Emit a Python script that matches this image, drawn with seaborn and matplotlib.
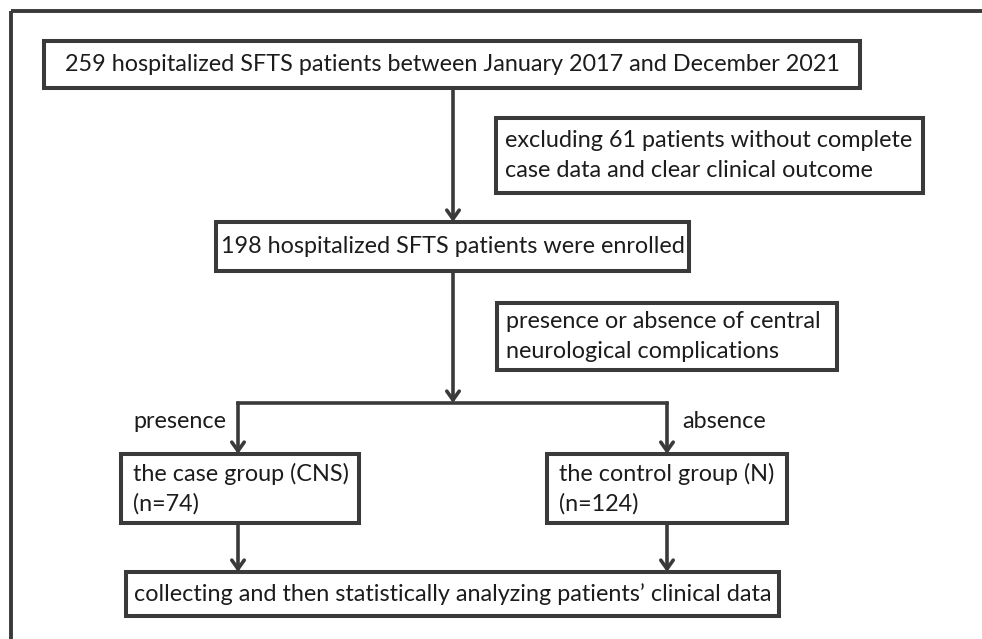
import matplotlib
matplotlib.use("Agg")
import matplotlib.pyplot as plt
from matplotlib.patches import Rectangle
import seaborn as sns

# texts of the flow chart
top_lines = ["259 hospitalized SFTS patients between January 2017 and December 2021"]
exclude_lines = ["excluding 61 patients without complete", "case data and clear clinical outcome"]
enrolled_lines = ["198 hospitalized SFTS patients were enrolled"]
split_lines = ["presence or absence of central", "neurological complications"]
case_lines = ["the case group (CNS)", "(n=74)"]
control_lines = ["the control group (N)", "(n=124)"]
final_lines = ["collecting and then statistically analyzing patients\u2019 clinical data"]
branch_labels = ["presence", "absence"]

sns.set_theme(style="white")
plt.rcParams["font.family"] = ["Lato", "DejaVu Sans"]

INK = "#3a3a3a"
TXT = "#1c1c1c"
FS = 16.8
LINE_GAP = 30

fig = plt.figure(figsize=(9.82, 6.39), dpi=100)
ax = fig.add_axes([0, 0, 1, 1])
ax.set_xlim(0, 982)
ax.set_ylim(639, 0)
ax.set_axis_off()

# outer frame (cut off at right and bottom)
ax.add_patch(Rectangle((11, 11), 1000, 700, fill=False, lw=2.8, ec=INK))


def box(x0, x1, y0, y1, lines, align="center", pad=9):
    ax.add_patch(Rectangle((x0, y0), x1 - x0, y1 - y0, fill=False, lw=2.9,
                           ec=INK, zorder=3))
    yc = (y0 + y1) / 2
    n = len(lines)
    for i, s in enumerate(lines):
        y = yc + (i - (n - 1) / 2) * LINE_GAP
        if align == "center":
            ax.text((x0 + x1) / 2, y, s, ha="center", va="center", fontsize=FS, color=TXT)
        else:
            ax.text(x0 + pad, y, s, ha="left", va="center", fontsize=FS, color=TXT)


def arrow(x, y0, y1):
    ax.annotate("", xy=(x, y1), xytext=(x, y0),
                arrowprops=dict(arrowstyle="->,head_length=0.45,head_width=0.32",
                                lw=2.6, color=INK, shrinkA=0, shrinkB=0,
                                mutation_scale=14))


def line(xs, ys):
    ax.plot(xs, ys, color=INK, lw=2.6, solid_capstyle="projecting")


box(44, 860, 41, 88, top_lines)
box(496, 923, 118, 193, exclude_lines, align="left")
box(216, 689, 222, 271, enrolled_lines)
box(497, 837, 303, 370, split_lines, align="left")
box(121, 359, 454, 523, case_lines, align="left", pad=12)
box(547, 787, 454, 523, control_lines, align="left", pad=12)
box(126, 779, 572, 616, final_lines)

arrow(453, 88, 222)
arrow(453, 271, 403)
line([238, 667], [403, 403])
arrow(238, 403, 454)
arrow(667, 403, 454)
arrow(238, 523, 572)
arrow(667, 523, 572)

ax.text(133, 421, branch_labels[0], ha="left", va="center", fontsize=FS, color=TXT)
ax.text(682, 421, branch_labels[1], ha="left", va="center", fontsize=FS, color=TXT)

fig.savefig("out.png", dpi=100, facecolor="white")
